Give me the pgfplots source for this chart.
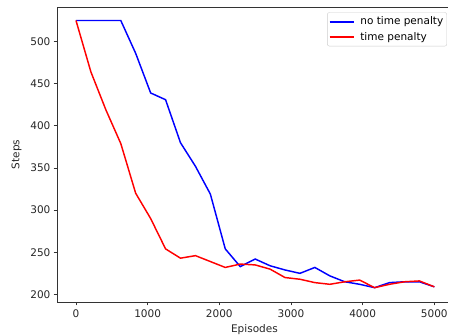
\documentclass[border=0pt]{standalone}
\usepackage{pgfplots}
\pgfplotsset{compat=1.18}
\usepackage{pgfplotstable}
\usepackage{fontspec}
\setmainfont{DejaVu Sans}
\pgfplotstableread{
x y
0 525
208 525
417 525
625 525
833 486
1042 439
1250 431
1458 380
1667 352
1875 319
2083 254
2292 233
2500 242
2708 234
2917 229
3125 225
3333 232
3542 222
3750 215
3958 212
4167 208
4375 214
4583 215
4792 215
5000 209
}\datanopen
\pgfplotstableread{
x y
0 525
208 464
417 419
625 379
833 320
1042 290
1250 254
1458 243
1667 246
1875 239
2083 232
2292 236
2500 235
2708 230
2917 220
3125 218
3333 214
3542 212
3750 215
3958 217
4167 208
4375 212
4583 215
4792 216
5000 209
}\datapen
\begin{document}
\fontsize{10.5bp}{12.6bp}\selectfont
\begin{tikzpicture}
\begin{axis}[
 scale only axis, width=391bp, height=295bp,
 xmin=-265, xmax=5191, ymin=191, ymax=541,
 axis x line*=box, axis y line*=left,
 xtick={0,1000,...,5000}, ytick={200,250,...,500},
 tick align=outside, major tick length=3.4bp,
 xtick pos=bottom,
 tick style={black!80, line width=0.78bp},
 axis line style={black!80, line width=0.78bp},
 /pgf/number format/assume math mode=true,
 /pgf/number format/1000 sep={},
 tick label style={font=\fontsize{10.5bp}{12.6bp}\selectfont, text=black!85},
 yticklabel style={xshift=0.5bp},
 xticklabel style={yshift=-0.5bp},
 xlabel=Episodes, ylabel=Steps,
 xlabel style={at={(axis description cs:0.505,-0.105)}, anchor=base, font=\fontsize{10.5bp}{12.6bp}\selectfont, text=black!85},
 ylabel style={at={(axis description cs:-0.096,0.5)}, anchor=base, font=\fontsize{10.5bp}{12.6bp}\selectfont, text=black!85},
 legend cell align=left,
 legend image code/.code={\draw[#1] (0bp,0bp) -- (24bp,0bp); \path (28bp,0bp);},
 legend style={at={(axis description cs:0.9974,0.982)}, anchor=north east,
   draw=black!20, rounded corners=2bp, fill=white, fill opacity=0.8, text opacity=1,
   font=\fontsize{10.5bp}{12.6bp}\selectfont, inner xsep=1.5bp, inner ysep=2bp,
   nodes={inner xsep=2bp, inner ysep=2.5bp}, column sep=0bp, row sep=0.5bp},
]
\addplot[blue, line width=1.46bp] table[x=x,y=y] {\datanopen};
\addplot[red, line width=1.46bp] table[x=x,y=y] {\datapen};
\legend{no time penalty, time penalty}
\end{axis}
\pgfresetboundingbox
\path[use as bounding box] ([xshift=-57bp,yshift=-34bp]current axis.south west) rectangle ([xshift=1bp,yshift=7bp]current axis.north east);
\end{tikzpicture}
\end{document}
